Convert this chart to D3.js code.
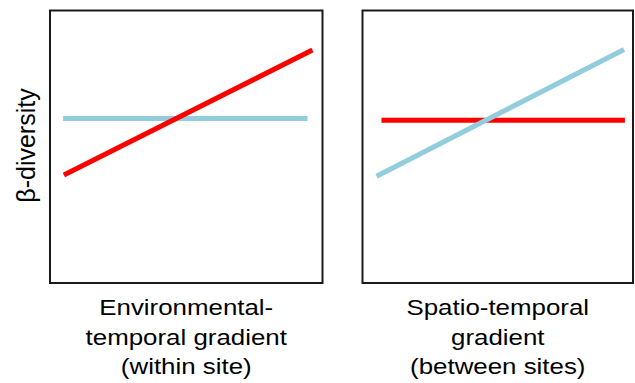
<!DOCTYPE html>
<html>
<head>
<meta charset="utf-8">
<script src="https://cdn.jsdelivr.net/npm/d3@7"></script>
<style>
  html, body { margin: 0; padding: 0; background: #fff; }
  svg { display: block; }
  text { font-family: "Liberation Sans", Arial, sans-serif; fill: #000; }
</style>
</head>
<body>
<svg id="chart" width="635" height="383"></svg>
<script>
// ---- data ----
const panelNames = ["within", "between"];
const xLabels = [
  ["Environmental-", "temporal gradient", "(within site)"],
  ["Spatio-temporal", "gradient", "(between sites)"]
];
const yLabel = "β-diversity";
const seriesNames = ["red", "blue"];
// line endpoints per panel: [x0, y0, x1, y1] in data units (0-10)
const redLines = [
  [0.51, 3.96, 9.63, 8.55],
  [0.70, 5.97, 9.70, 5.97]
];
const blueLines = [
  [0.48, 6.04, 9.45, 6.04],
  [0.52, 3.92, 9.67, 8.57]
];
const seriesColors = ["#ff0000", "#92cddd"];

// ---- layout ----
const svg = d3.select("#chart");
const panelRanges = [[50, 322.5], [362.5, 633]];
const yRange = [283, 10.5];

const y = d3.scaleLinear().domain([0, 10]).range(yRange);

panelNames.forEach((name, i) => {
  const x = d3.scaleLinear().domain([0, 10]).range(panelRanges[i]);
  const g = svg.append("g").attr("class", "panel-" + name);

  g.append("rect")
    .attr("x", x(0)).attr("y", y(10))
    .attr("width", x(10) - x(0)).attr("height", y(0) - y(10))
    .attr("fill", "none").attr("stroke", "#1a1a1a").attr("stroke-width", 2);

  const lines = [redLines[i], blueLines[i]];
  const order = i === 0 ? [1, 0] : [0, 1];
  order.forEach(k => {
    const d = lines[k];
    g.append("path")
      .attr("d", d3.line()([[x(d[0]), y(d[1])], [x(d[2]), y(d[3])]]))
      .attr("stroke", seriesColors[k])
      .attr("stroke-width", 5)
      .attr("fill", "none");
  });

  const cx = (x(0) + x(10)) / 2;
  const baselines = [314.5, 344.5, 374];
  xLabels[i].forEach((t, j) => {
    g.append("text")
      .attr("transform", `translate(${cx},${baselines[j]}) scale(1.15,1)`)
      .attr("text-anchor", "middle")
      .style("font-size", "22.5px")
      .text(t);
  });
});

svg.append("text")
  .attr("transform", "translate(35,145.5) rotate(-90)")
  .attr("text-anchor", "middle")
  .style("font-size", "25px")
  .text(yLabel);
</script>
</body>
</html>
